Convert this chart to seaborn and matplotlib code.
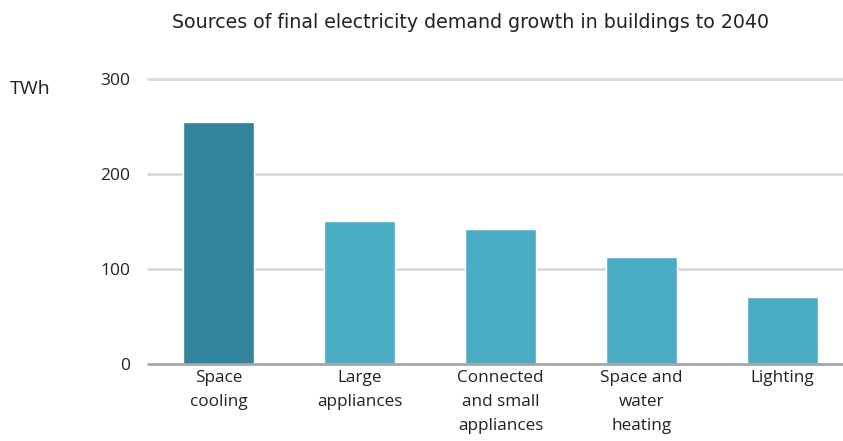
import matplotlib
matplotlib.use("Agg")
import matplotlib.pyplot as plt
import seaborn as sns
import pandas as pd

categories = ["Space\ncooling", "Large\nappliances", "Connected\nand small\nappliances",
              "Space and\nwater\nheating", "Lighting"]
values = [255, 150, 142, 112, 70]
bar_colors = ["#31849B", "#4BACC6", "#4BACC6", "#4BACC6", "#4BACC6"]
yticks = [0, 100, 200, 300]

sns.set_theme(style="white")
plt.rcParams["font.family"] = ["Open Sans", "DejaVu Sans"]

df = pd.DataFrame({"category": categories, "value": values})

fig = plt.figure(figsize=(8.43, 4.41), dpi=100)
W, H = 843, 441
ax = fig.add_axes([148 / W, (H - 363.5) / H, 705 / W, (363.5 - 79.5) / H])

sns.barplot(data=df, x="category", y="value", hue="category", palette=bar_colors,
            width=0.5, legend=False, ax=ax, saturation=1, zorder=3)

ax.set_ylim(0, 300)
ax.set_xlim(-0.5, 4.5)
ax.set_yticks(yticks)
ax.set_yticklabels([str(t) for t in yticks], fontsize=12.5, color="#222222")
ax.tick_params(axis="y", length=0, pad=13)
ax.tick_params(axis="x", length=0, pad=5, labelsize=12.3, labelcolor="#222222")
for lbl in ax.get_xticklabels():
    lbl.set_linespacing(1.65)
for t in yticks[1:]:
    ax.axhline(t, color="#D9D9D9", lw=2, zorder=1, clip_on=False)
ax.axhline(0, color="#A6A6A6", lw=2, zorder=4, clip_on=False)
for s in ax.spines.values():
    s.set_visible(False)
ax.set_xlabel("")
ax.set_ylabel("")

fig.text(10 / W, 1 - 89 / H, "TWh", fontsize=14, color="#222222", va="center", ha="left")
fig.text(471 / W, 1 - 22 / H, "Sources of final electricity demand growth in buildings to 2040",
         fontsize=13.7, color="#222222", va="center", ha="center", family="DejaVu Sans")

fig.savefig("out.png", dpi=100)
